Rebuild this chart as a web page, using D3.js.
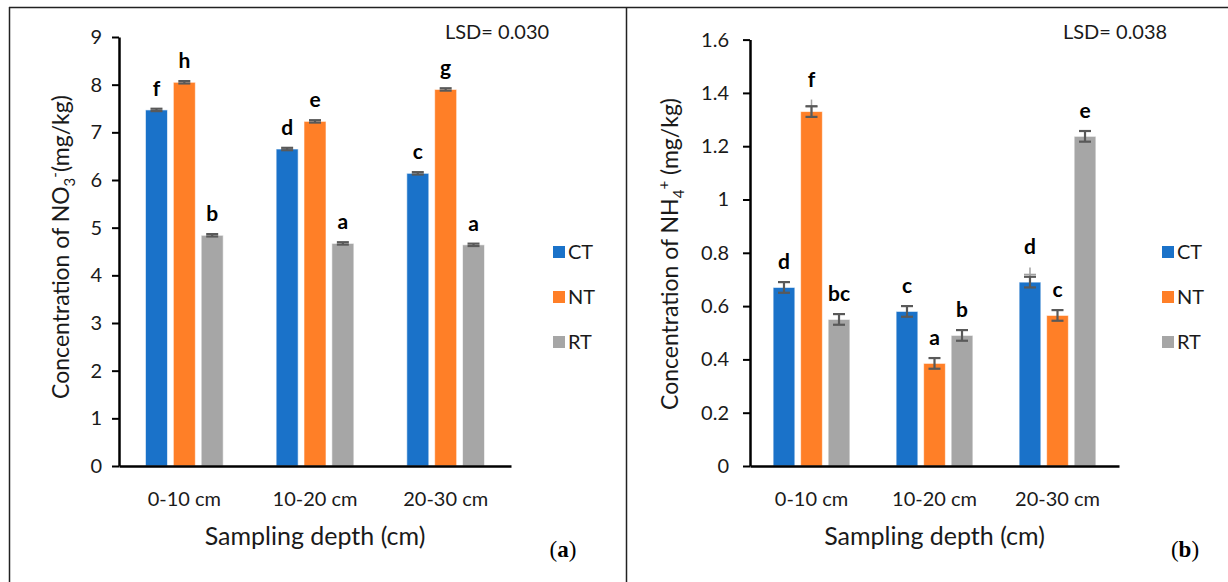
<!DOCTYPE html>
<html>
<head>
<meta charset="utf-8">
<script src="https://cdn.jsdelivr.net/npm/d3@7"></script>
<style>
  body { margin: 0; background: #fff; }
  svg { display: block; font-family: Lato, "Open Sans", sans-serif; }
</style>
</head>
<body>
<div class="canvas"></div>
<script>
const depths = ['0-10 cm', '10-20 cm', '20-30 cm'];
const treatments = ['CT', 'NT', 'RT'];
const colours = ['#1a72c9', '#ff7f27', '#a6a6a6'];

// panel (a) NO3-
const no3CT = [7.47, 6.65, 6.14];
const no3NT = [8.05, 7.23, 7.90];
const no3RT = [4.84, 4.67, 4.64];
const no3Err = 0.025;
const no3Letters = [['f', 'd', 'c'], ['h', 'e', 'g'], ['b', 'a', 'a']];
const no3Ticks = [0, 1, 2, 3, 4, 5, 6, 7, 8, 9];

// panel (b) NH4+
const nh4CT = [0.67, 0.58, 0.69];
const nh4NT = [1.33, 0.385, 0.565];
const nh4RT = [0.55, 0.49, 1.237];
const nh4Err = 0.02;
const nh4Letters = [['d', 'c', 'd'], ['f', 'a', 'c'], ['bc', 'b', 'e']];
const nh4Ticks = [0, 0.2, 0.4, 0.6, 0.8, 1, 1.2, 1.4, 1.6];
// stray grey error marks left in the original figure (treatment, depth, top value)
const nh4Stray = [{ t: 'NT', d: '0-10 cm', top: 1.375 }, { t: 'CT', d: '20-30 cm', top: 0.745 }];

const svg = d3.select('.canvas')
  .append('svg')
  .attr('width', 1228)
  .attr('height', 582);

// outer frame of the figure
const frame = svg.append('g').attr('stroke', '#222').attr('stroke-width', 1.5);
frame.append('line').attr('x1', 9).attr('x2', 1228).attr('y1', 7.5).attr('y2', 7.5);
frame.append('line').attr('x1', 9.5).attr('x2', 9.5).attr('y1', 7).attr('y2', 582);
frame.append('line').attr('x1', 626.5).attr('x2', 626.5).attr('y1', 7).attr('y2', 582);

function drawPanel(p) {
  const g = svg.append('g');
  const y = d3.scaleLinear().domain(p.domain).range([466, p.yTop]);
  const x0 = d3.scaleBand().domain(depths).range(p.xRange);
  const x1 = d3.scaleBand().domain(treatments).range([0, x0.bandwidth()])
    .paddingInner(0.21).paddingOuter(p.outer);
  const colour = d3.scaleOrdinal(treatments, colours);

  const rows = [];
  treatments.forEach((t, i) => {
    depths.forEach((d, j) => {
      rows.push({ t, d, v: p.series[i][j], e: p.err, label: p.letters[i][j] });
    });
  });

  // bars
  g.selectAll('rect.bar')
    .data(rows)
    .enter()
    .append('rect')
    .attr('x', r => x0(r.d) + x1(r.t))
    .attr('y', r => y(r.v))
    .attr('width', x1.bandwidth())
    .attr('height', r => y(0) - y(r.v))
    .attr('fill', r => colour(r.t))
    .attr('stroke', '#fff')
    .attr('stroke-opacity', 0.6)
    .attr('stroke-width', 1);

  // stray grey marks
  const stray = g.selectAll('g.stray')
    .data(p.stray)
    .enter()
    .append('g')
    .attr('stroke', '#a0a0a0')
    .attr('stroke-width', 1.5);
  stray.append('line')
    .attr('x1', s => x0(s.d) + x1(s.t) + x1.bandwidth() / 2)
    .attr('x2', s => x0(s.d) + x1(s.t) + x1.bandwidth() / 2)
    .attr('y1', s => y(s.top))
    .attr('y2', s => y(s.top) + 16);
  stray.append('line')
    .attr('x1', s => x0(s.d) + x1(s.t) + x1.bandwidth() / 2 - 6)
    .attr('x2', s => x0(s.d) + x1(s.t) + x1.bandwidth() / 2 + 6)
    .attr('y1', s => y(s.top) + 7)
    .attr('y2', s => y(s.top) + 7);

  // error bars
  const eb = g.selectAll('g.err')
    .data(rows)
    .enter()
    .append('g')
    .attr('stroke', '#595959')
    .attr('stroke-width', 2.2)
    .attr('transform', r => `translate(${x0(r.d) + x1(r.t) + x1.bandwidth() / 2},0)`);
  eb.append('line').attr('y1', r => y(r.v + r.e)).attr('y2', r => y(r.v - r.e));
  eb.append('line').attr('x1', -6).attr('x2', 6).attr('y1', r => y(r.v + r.e)).attr('y2', r => y(r.v + r.e));
  eb.append('line').attr('x1', -6).attr('x2', 6).attr('y1', r => y(r.v - r.e)).attr('y2', r => y(r.v - r.e));

  // significance letters
  g.selectAll('text.letter')
    .data(rows)
    .enter()
    .append('text')
    .attr('x', r => x0(r.d) + x1(r.t) + x1.bandwidth() / 2)
    .attr('y', r => {
      const s = p.stray.find(q => q.t === r.t && q.d === r.d);
      return y(s ? s.top : r.v + r.e) - 13;
    })
    .attr('text-anchor', 'middle')
    .attr('font-weight', 'bold')
    .attr('font-size', 21)
    .attr('fill', '#000')
    .text(r => r.label);

  // axes
  const yAxis = g.append('g')
    .attr('transform', `translate(${p.xRange[0]},0)`)
    .call(d3.axisLeft(y).tickValues(p.ticks).tickFormat(d => String(d))
      .tickSize(7).tickSizeOuter(0).tickPadding(p.tickPad));
  yAxis.select('.domain').attr('stroke', '#000').attr('stroke-width', 2.5);
  yAxis.selectAll('.tick line').attr('stroke', '#000').attr('stroke-width', 2);
  yAxis.selectAll('.tick text').attr('font-size', 20).attr('fill', '#1a1a1a')
    .attr('font-family', 'Lato, sans-serif');

  const xAxis = g.append('g')
    .attr('transform', 'translate(0,466)')
    .call(d3.axisBottom(x0).tickSize(0).tickPadding(26));
  xAxis.select('.domain').attr('stroke', '#000').attr('stroke-width', 2.5);
  xAxis.selectAll('.tick text').attr('font-size', 20).attr('fill', '#1a1a1a')
    .attr('font-family', 'Lato, sans-serif');

  // axis titles
  g.append('text')
    .attr('x', (p.xRange[0] + p.xRange[1]) / 2)
    .attr('y', 545)
    .attr('text-anchor', 'middle')
    .attr('font-size', 25)
    .attr('fill', '#1a1a1a')
    .text('Sampling depth (cm)');

  const yt = g.append('text')
    .attr('transform', `translate(${p.titleX},${p.titleY}) rotate(-90)`)
    .attr('text-anchor', 'middle')
    .attr('font-size', 23)
    .attr('fill', '#1a1a1a');
  yt.append('tspan').text(`Concentration of ${p.ion}`);
  yt.append('tspan').attr('font-size', 15).attr('dy', 6).text(p.sub);
  yt.append('tspan').attr('font-size', 15).attr('dy', -15).text(p.sup);
  yt.append('tspan').attr('dy', 9).text(p.unit);

  // LSD note
  g.append('text')
    .attr('x', p.lsdX)
    .attr('y', 39)
    .attr('font-size', 20)
    .attr('fill', '#1a1a1a')
    .text(p.lsd);

  // legend
  const leg = g.selectAll('g.legend')
    .data(treatments)
    .enter()
    .append('g')
    .attr('transform', (t, i) => `translate(${p.legendX},${252 + i * 45})`);
  leg.append('rect')
    .attr('x', 0).attr('y', -6).attr('width', 12).attr('height', 12)
    .attr('fill', t => colour(t));
  leg.append('text')
    .attr('x', 15).attr('y', 7)
    .attr('font-size', 20)
    .attr('fill', '#1a1a1a')
    .text(t => t);

  // panel tag
  const tag = g.append('text')
    .attr('x', p.tagX)
    .attr('y', 557)
    .attr('text-anchor', 'middle')
    .attr('font-family', '"Liberation Serif", "DejaVu Serif", serif')
    .attr('font-size', 23)
    .attr('fill', '#000');
  tag.append('tspan').text('(');
  tag.append('tspan').attr('font-weight', 'bold').text(p.tag);
  tag.append('tspan').text(')');
}

drawPanel({
  domain: [0, 9], yTop: 37, xRange: [119, 511], outer: 0.95, tickPad: 10,
  series: [no3CT, no3NT, no3RT], err: no3Err, letters: no3Letters, ticks: no3Ticks,
  stray: [],
  ion: 'NO', sub: '3', sup: '-', unit: '(mg/kg)', titleX: 69, titleY: 247,
  lsd: 'LSD= 0.030', lsdX: 445, legendX: 553, tag: 'a', tagX: 563
});

drawPanel({
  domain: [0, 1.6], yTop: 39.6, xRange: [750, 1119], outer: 0.84, tickPad: 14,
  series: [nh4CT, nh4NT, nh4RT], err: nh4Err, letters: nh4Letters, ticks: nh4Ticks,
  stray: nh4Stray,
  ion: 'NH', sub: '4', sup: '+', unit: ' (mg/kg)', titleX: 678, titleY: 254,
  lsd: 'LSD= 0.038', lsdX: 1063, legendX: 1162, tag: 'b', tagX: 1185
});
</script>
</body>
</html>
